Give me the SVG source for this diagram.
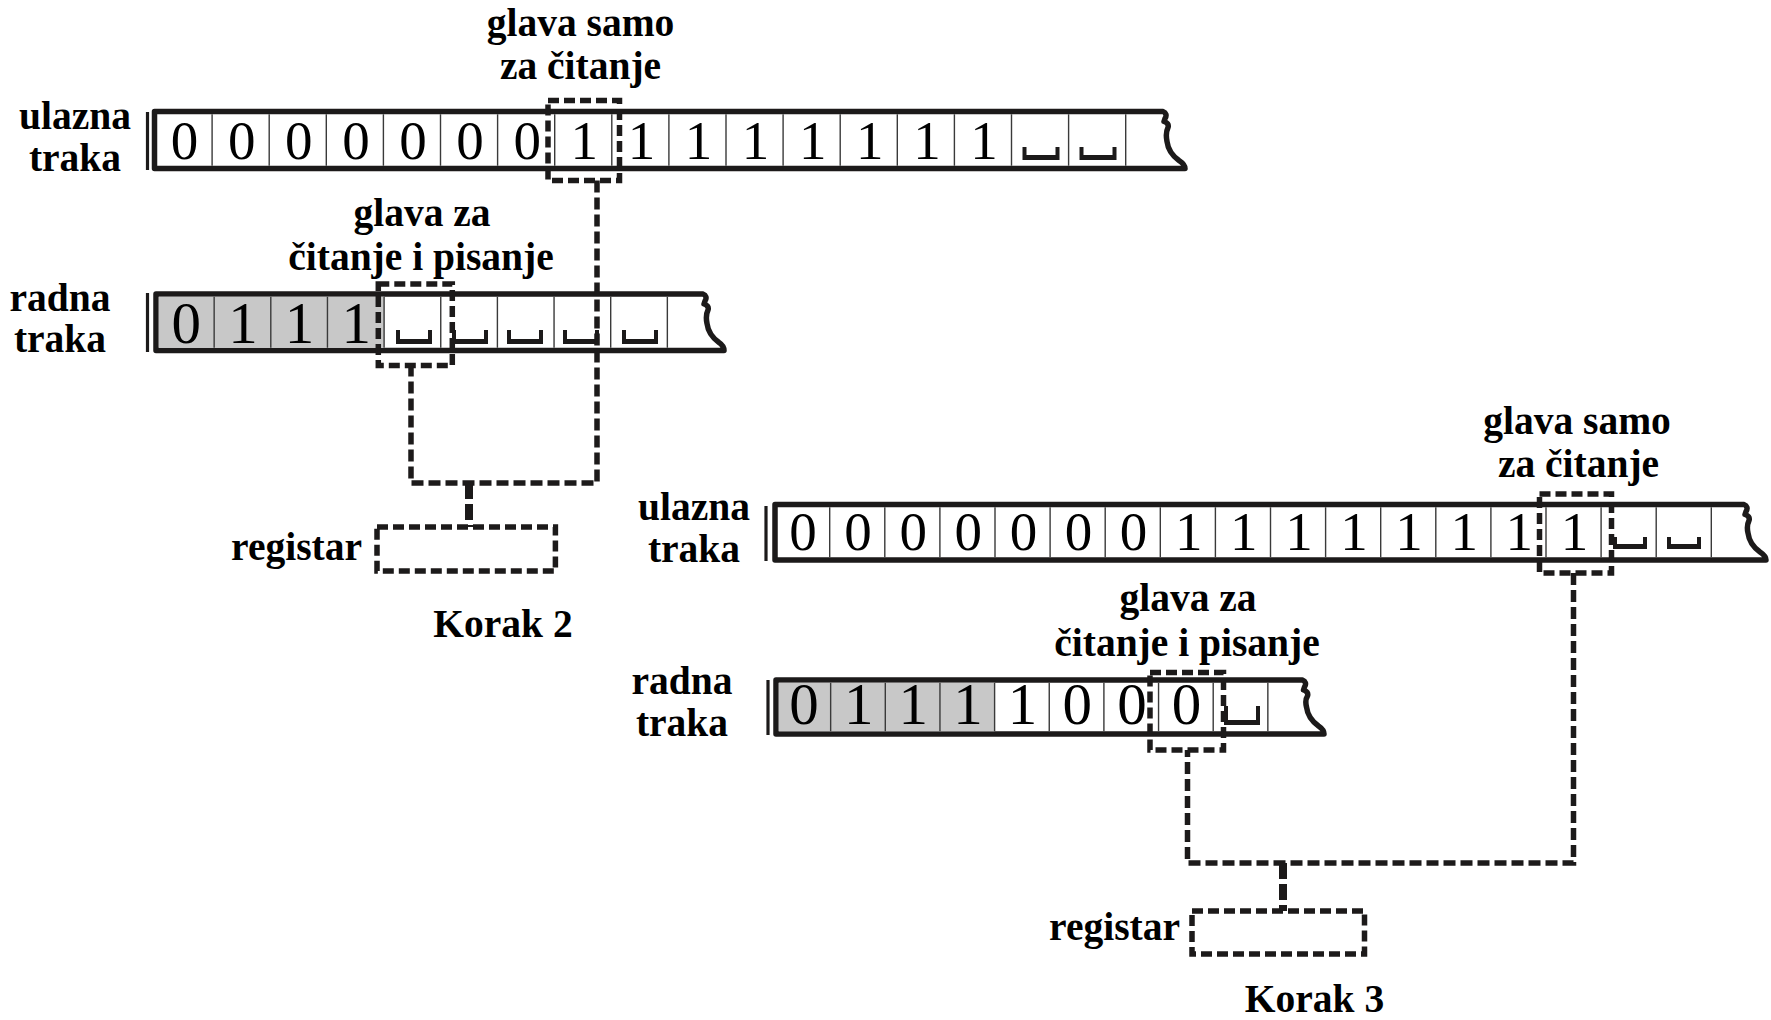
<svg xmlns="http://www.w3.org/2000/svg" xmlns:xlink="http://www.w3.org/1999/xlink" width="1771" height="1020" viewBox="0 0 1771 1020">
  <style>
    .frame { fill: #ffffff; stroke: #1c1a1a; stroke-width: 5.5; stroke-linejoin: round; }
    .shade { fill: #c8c8c8; }
    .cells { fill: none; stroke: #3a3a3a; stroke-width: 1.4; }
    .bar { fill: none; stroke: #1c1a1a; stroke-width: 3.2; }
    .blank { fill: #1c1a1a; }
    .sym { font-family: "Liberation Serif", "Times New Roman", serif; font-size: 55px; text-anchor: middle; fill: #000; }
    .symw { font-size: 59px; }
    .lbl { font-family: "Liberation Serif", "Times New Roman", serif; font-weight: bold; font-size: 39.5px; text-anchor: middle; fill: #000; }
    .lbl.end { text-anchor: end; }
    .head { fill: none; stroke: #1c1a1a; stroke-width: 5.5; stroke-dasharray: 11 5; }
    .reg { fill: none; stroke: #1c1a1a; stroke-width: 5.5; stroke-dasharray: 11 5; }
    .wire { fill: none; stroke: #1c1a1a; stroke-width: 5.5; stroke-dasharray: 12 5; }
    .stem { fill: none; stroke: #1c1a1a; stroke-width: 8; stroke-dasharray: 16 5; }
  </style>

  <!-- ===================== Korak 2 ===================== -->
  <g id="k2-input-tape">
    <line class="bar" x1="147.5" y1="112" x2="147.5" y2="170"/>
    <path class="frame" d="M154.5,111.5 H1163 c3,1 4,4 2,7 l-1,3 c3,1 5,3 4,6 c-2,4 -2,9 -1,14 c1,8 5,14 12,19 c3,2 6,5 6,8 H154.5 Z"/>
    <path class="cells" d="M212.1,114.25V165.75 M269.2,114.25V165.75 M326.3,114.25V165.75 M383.4,114.25V165.75 M440.5,114.25V165.75 M497.6,114.25V165.75 M554.7,114.25V165.75 M611.8,114.25V165.75 M668.9,114.25V165.75 M726,114.25V165.75 M783.1,114.25V165.75 M840.2,114.25V165.75 M897.3,114.25V165.75 M954.4,114.25V165.75 M1011.5,114.25V165.75 M1068.6,114.25V165.75 M1125.7,114.25V165.75"/>
    <g class="sym">
      <text x="184.6" y="159">0</text>
      <text x="241.7" y="159">0</text>
      <text x="298.8" y="159">0</text>
      <text x="355.9" y="159">0</text>
      <text x="413" y="159">0</text>
      <text x="470.1" y="159">0</text>
      <text x="527.2" y="159">0</text>
      <text x="584.3" y="159">1</text>
      <text x="641.4" y="159">1</text>
      <text x="698.5" y="159">1</text>
      <text x="755.6" y="159">1</text>
      <text x="812.7" y="159">1</text>
      <text x="869.8" y="159">1</text>
      <text x="926.9" y="159">1</text>
      <text x="984" y="159">1</text>
    </g>
    <path class="blank" d="M1022.5,147 h4 v8 h29 v-8 h4 v13 h-37 z"/>
    <path class="blank" d="M1079.5,147 h4 v8 h29 v-8 h4 v13 h-37 z"/>
  </g>

  <g id="k2-work-tape">
    <line class="bar" x1="147.5" y1="293" x2="147.5" y2="352"/>
    <path class="frame" d="M156,294 H703 c3,1 4,4 2,7 l-1,3 c3,1 5,3 4,6 c-2,4 -2,8.5 -1,13.5 c1,8 5,14 12,19 c3,2 5,5 5,8 H156 Z"/>
    <rect class="shade" x="158.75" y="296.75" width="225.35" height="51"/>
    <path class="cells" d="M214.15,296.75V347.75 M270.8,296.75V347.75 M327.45,296.75V347.75 M384.1,296.75V347.75 M440.75,296.75V347.75 M497.4,296.75V347.75 M554.05,296.75V347.75 M610.7,296.75V347.75 M667.35,296.75V347.75"/>
    <g class="sym symw">
      <text x="186.3" y="342.5">0</text>
      <text x="243" y="342.5">1</text>
      <text x="299.6" y="342.5">1</text>
      <text x="356.3" y="342.5">1</text>
    </g>
    <path class="blank" d="M396,330 h4 v9 h28 v-9 h4 v14 h-36 z"/>
    <path class="blank" d="M452,330 h4 v9 h28 v-9 h4 v14 h-36 z"/>
    <path class="blank" d="M507,330 h4 v9 h28 v-9 h4 v14 h-36 z"/>
    <path class="blank" d="M563,330 h4 v9 h28 v-9 h4 v14 h-36 z"/>
    <path class="blank" d="M622,330 h4 v9 h28 v-9 h4 v14 h-36 z"/>
  </g>

  <g id="k2-read-head">
    <rect class="head" x="548" y="100.5" width="71.5" height="80"/>
  </g>
  <g id="k2-rw-head">
    <rect class="head" x="378.3" y="284" width="74" height="81.5"/>
  </g>
  <g id="k2-register">
    <rect class="reg" x="377" y="527" width="178.4" height="44"/>
  </g>

  <g id="k2-labels">
    <text class="lbl"><tspan x="580.5" y="36">glava samo</tspan><tspan x="580.5" y="79">za čitanje</tspan></text>
    <text class="lbl"><tspan x="75" y="129">ulazna</tspan><tspan x="75" y="171">traka</tspan></text>
    <text class="lbl"><tspan x="422" y="226">glava za</tspan><tspan x="421" y="270">čitanje i pisanje</tspan></text>
    <text class="lbl"><tspan x="60" y="311">radna</tspan><tspan x="60" y="352">traka</tspan></text>
    <text class="lbl end" x="362" y="560">registar</text>
    <text class="lbl" x="503" y="637">Korak 2</text>
  </g>

  <!-- ===================== Korak 3 ===================== -->
  <g id="k3-input-tape">
    <line class="bar" x1="766" y1="506" x2="766" y2="561"/>
    <path class="frame" d="M775,504.5 H1744 c3,1 4,4 2,7 l-1,3 c3,1 5,3 4,6 c-2,4 -2,8 -1,12.5 c1,8 5,14 12,19 c3,2 6,5 6,8 H775 Z"/>
    <path class="cells" d="M829.7,507.25V557.25 M884.8,507.25V557.25 M939.9,507.25V557.25 M995,507.25V557.25 M1050.1,507.25V557.25 M1105.2,507.25V557.25 M1160.3,507.25V557.25 M1215.4,507.25V557.25 M1270.5,507.25V557.25 M1325.6,507.25V557.25 M1380.7,507.25V557.25 M1435.8,507.25V557.25 M1490.9,507.25V557.25 M1546,507.25V557.25 M1601.1,507.25V557.25 M1656.2,507.25V557.25 M1711.3,507.25V557.25"/>
    <g class="sym">
      <text x="803" y="550">0</text>
      <text x="858.1" y="550">0</text>
      <text x="913.2" y="550">0</text>
      <text x="968.3" y="550">0</text>
      <text x="1023.4" y="550">0</text>
      <text x="1078.5" y="550">0</text>
      <text x="1133.6" y="550">0</text>
      <text x="1188.7" y="550">1</text>
      <text x="1243.8" y="550">1</text>
      <text x="1298.9" y="550">1</text>
      <text x="1354" y="550">1</text>
      <text x="1409.1" y="550">1</text>
      <text x="1464.2" y="550">1</text>
      <text x="1519.3" y="550">1</text>
      <text x="1574.4" y="550">1</text>
    </g>
    <path class="blank" d="M1613,537 h4 v7 h26 v-7 h4 v12 h-34 z"/>
    <path class="blank" d="M1667,537 h4 v7 h26 v-7 h4 v12 h-34 z"/>
  </g>

  <g id="k3-work-tape">
    <line class="bar" x1="768" y1="680" x2="768" y2="735"/>
    <path class="frame" d="M776,680 H1302.5 c3,1 4,4 2,7 l-1,3 c3,1 5,3 4,6 c-2,3 -2,7 -1,11 c1,8 5,14 12,19 c3,2 5.5,5 5.5,8 H776 Z"/>
    <rect class="shade" x="778.75" y="682.75" width="215.85" height="48.5"/>
    <path class="cells" d="M830.65,682.75V731.25 M885.3,682.75V731.25 M939.95,682.75V731.25 M994.6,682.75V731.25 M1049.25,682.75V731.25 M1103.9,682.75V731.25 M1158.55,682.75V731.25 M1213.2,682.75V731.25 M1267.85,682.75V731.25"/>
    <g class="sym symw">
      <text x="804" y="724">0</text>
      <text x="858.7" y="724">1</text>
      <text x="913.3" y="724">1</text>
      <text x="968" y="724">1</text>
      <text x="1022.6" y="724">1</text>
      <text x="1077.3" y="724">0</text>
      <text x="1131.9" y="724">0</text>
      <text x="1186.6" y="724">0</text>
    </g>
    <path class="blank" d="M1224,706 h4 v14 h28 v-14 h4 v19 h-36 z"/>
  </g>

  <g id="k3-read-head">
    <rect class="head" x="1539.5" y="494" width="72" height="79"/>
  </g>
  <g id="k3-rw-head">
    <rect class="head" x="1150" y="672.5" width="73.5" height="77.5"/>
  </g>
  <g id="k3-register">
    <rect class="reg" x="1192" y="911" width="172.5" height="43"/>
  </g>

  <g id="k3-labels">
    <text class="lbl"><tspan x="1577" y="434">glava samo</tspan><tspan x="1578.5" y="477">za čitanje</tspan></text>
    <text class="lbl"><tspan x="694" y="520">ulazna</tspan><tspan x="694" y="562">traka</tspan></text>
    <text class="lbl"><tspan x="1188" y="611">glava za</tspan><tspan x="1187" y="656">čitanje i pisanje</tspan></text>
    <text class="lbl"><tspan x="682" y="694">radna</tspan><tspan x="682" y="736">traka</tspan></text>
    <text class="lbl end" x="1180" y="940">registar</text>
    <text class="lbl" x="1314.5" y="1012">Korak 3</text>
  </g>

  <!-- head-to-register links -->
  <g id="connectors">
    <path class="wire" d="M597,180.5 V483 H411 V365.5"/>
    <path class="stem" d="M469,483 V527"/>
    <path class="wire" d="M1573.5,573 V863 H1187.5 V750"/>
    <path class="stem" d="M1283,863 V911"/>
  </g>
</svg>
